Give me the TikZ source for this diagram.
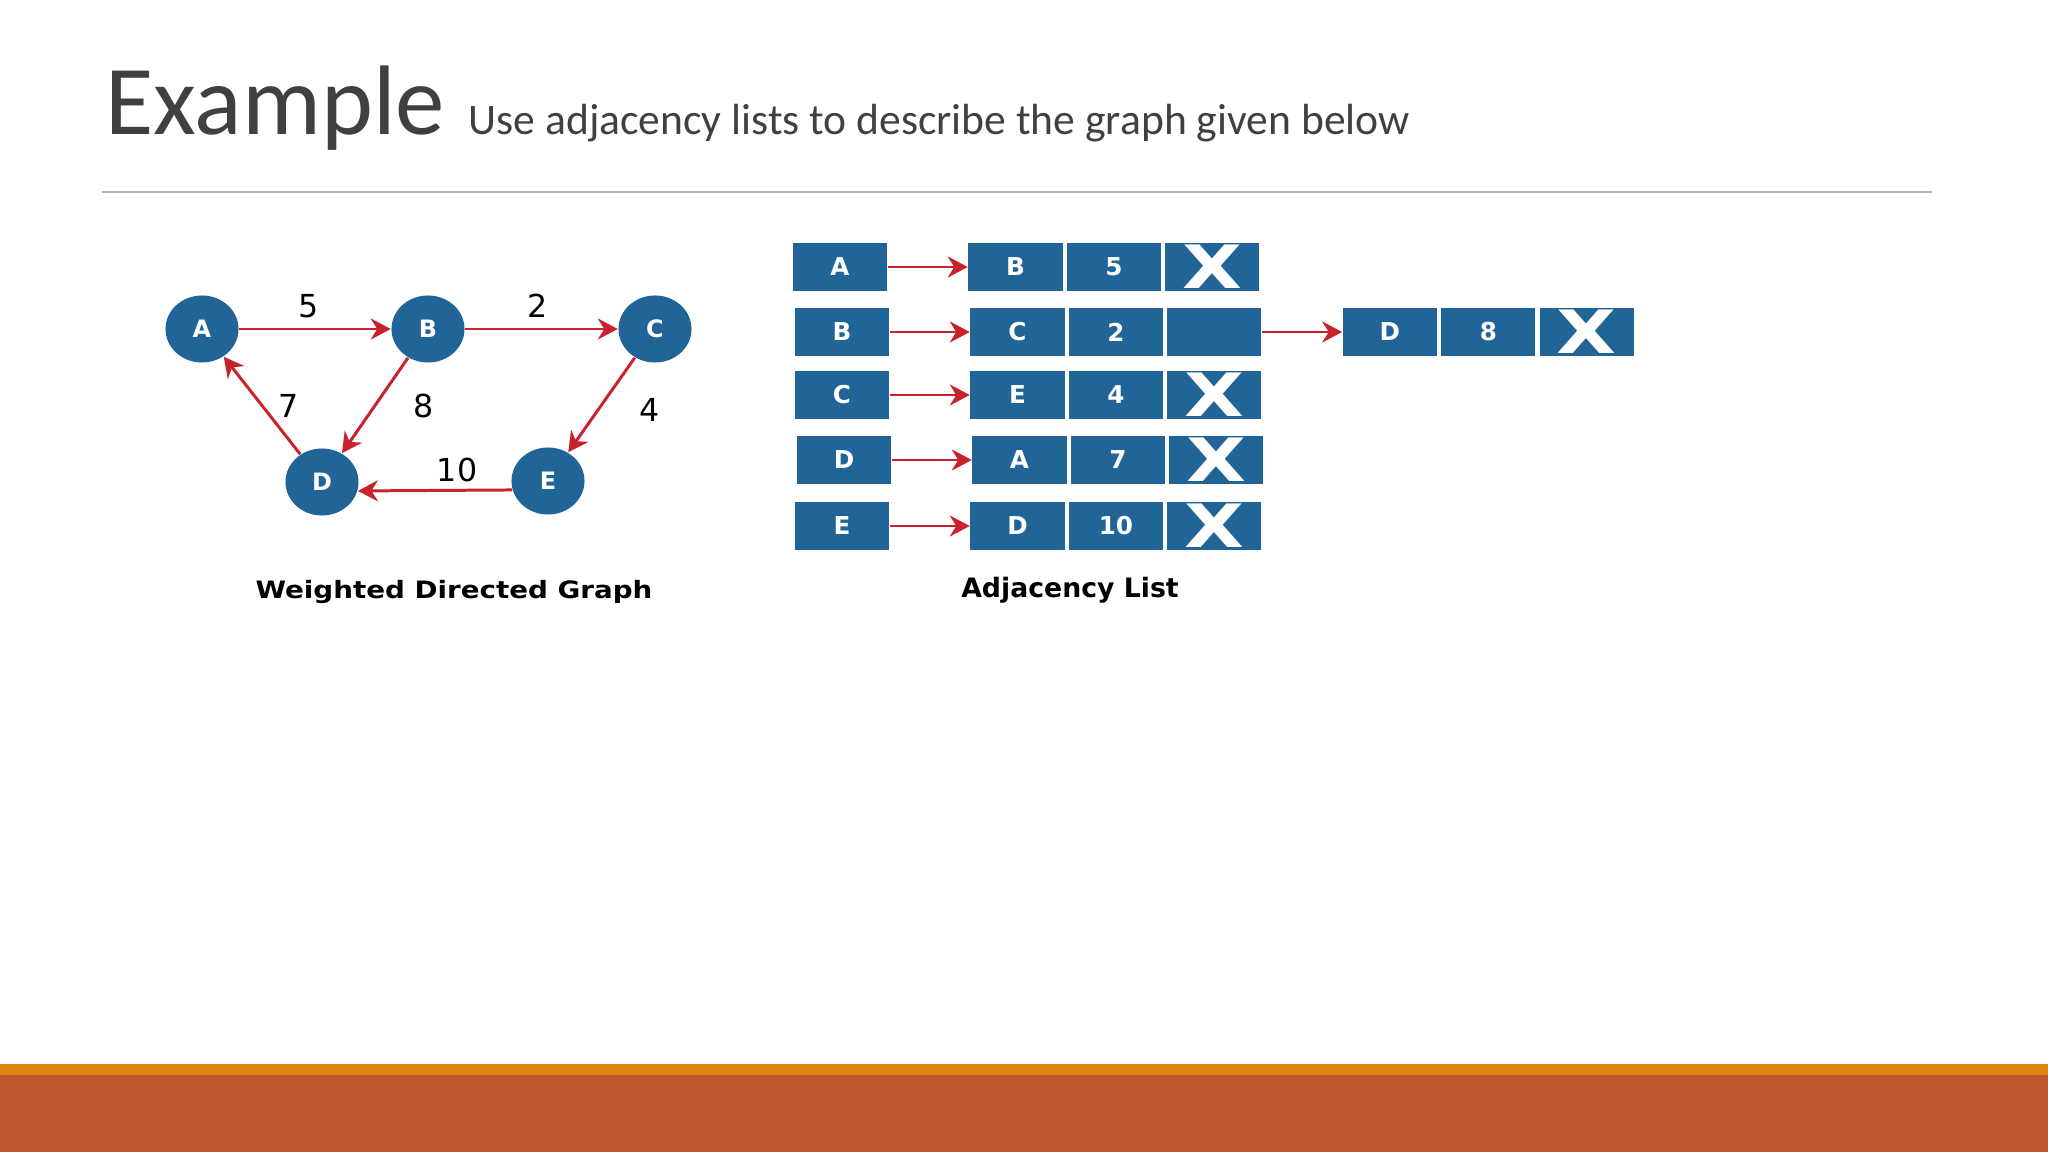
\documentclass[tikz,border=0pt]{standalone}
\usepackage{fontspec}
\setmainfont{DejaVu Sans}
\newfontfamily\titlefont{Carlito}
\newfontfamily\widefont[FakeStretch=1.16]{DejaVu Sans}
\usetikzlibrary{positioning,arrows.meta,shapes.geometric}
\definecolor{NodeBlue}{RGB}{33,101,152}
\definecolor{EdgeRed}{RGB}{200,35,45}
\definecolor{TitleGray}{RGB}{64,64,64}
\definecolor{RuleGray}{RGB}{180,180,180}
\definecolor{BarOrange}{RGB}{224,132,18}
\definecolor{BarRust}{RGB}{189,88,44}

\begin{document}
\begin{tikzpicture}[
  x=0.01cm, y=-0.01cm,
  node distance=0.03cm and 0.03cm,
  vertex/.style={ellipse, fill=NodeBlue, text=white, minimum width=0.73cm, minimum height=0.67cm, inner sep=0pt, font=\fontsize{6.8}{7}\selectfont\bfseries},
  headbox/.style={fill=NodeBlue, text=white, minimum width=0.94cm, minimum height=0.48cm, inner sep=0pt, font=\fontsize{7}{8}\selectfont\bfseries},
  nilbox/.style={headbox, font=\fontsize{17}{18}\selectfont\bfseries},
  arrow/.style={-{Stealth[length=0.2cm, width=0.21cm]}, EdgeRed, line width=0.85pt},
  weight/.style={text=black, font=\fontsize{9}{10}\selectfont, inner sep=0pt},
  caption/.style={anchor=base, inner sep=0pt}
]
\useasboundingbox (0,0) rectangle (2048,1152);

% Slide title
\node[anchor=base west, inner sep=0pt, text=TitleGray, font=\titlefont\fontsize{28.1}{30}\selectfont] (title) at (105,135) {Example};
\node[anchor=base west, inner sep=0pt, text=TitleGray, font=\titlefont\fontsize{12.4}{14}\selectfont] (subtitle) at (468,135) {Use adjacency lists to describe the graph given below};
\draw[RuleGray, line width=0.6pt] (102,192) -- (1932,192);

% Weighted directed graph
\node[vertex] (A) at (202,329) {A};
\node[vertex] (B) at (428,329) {B};
\node[vertex] (C) at (655,329) {C};
\node[vertex] (D) at (322,482) {D};
\node[vertex] (E) at (548,481) {E};

\draw[arrow] (A) -- (B) node[weight, midway, above=0.095cm, xshift=-0.06cm] {5};
\draw[arrow] (B) -- (C) node[weight, midway, above=0.095cm, xshift=-0.04cm] {2};
\draw[arrow] (C) -- (E) node[weight, midway, right=0.36cm, yshift=-0.05cm] {4};
\draw[arrow] (B) -- (D) node[weight, midway, right=0.37cm] {8};
\draw[arrow] (D) -- (A) node[weight, midway, right=0.15cm] {7};
\draw[arrow] (E.194) -- (D.-14) node[weight, midway, above=0.075cm, xshift=0.22cm] {10};

\node[caption, font=\widefont\fontsize{6.8}{8}\selectfont\bfseries] (graphcap) at (454,598) {Weighted Directed Graph};

% Adjacency list: heads
\node[headbox] (headA) at (840,267) {A};
\node[headbox] (headB) at (842,332) {B};
\node[headbox] (headC) at (842,395) {C};
\node[headbox] (headD) at (844,460) {D};
\node[headbox] (headE) at (842,526) {E};

% Row A
\node[headbox, right=0.8cm of headA] (a1) {B};
\node[headbox, right=of a1] (a2) {5};
\node[nilbox, right=of a2] (a3) {\scalebox{1.3}[1]{X}};
% Row B
\node[headbox, right=0.8cm of headB] (b1) {C};
\node[headbox, right=of b1] (b2) {2};
\node[headbox, right=of b2] (b3) {};
\node[headbox, right=0.8cm of b3] (b4) {D};
\node[headbox, right=of b4] (b5) {8};
\node[nilbox, right=of b5] (b6) {\scalebox{1.3}[1]{X}};
% Row C
\node[headbox, right=0.8cm of headC] (c1) {E};
\node[headbox, right=of c1] (c2) {4};
\node[nilbox, right=of c2] (c3) {\scalebox{1.3}[1]{X}};
% Row D
\node[headbox, right=0.8cm of headD] (d1) {A};
\node[headbox, right=of d1] (d2) {7};
\node[nilbox, right=of d2] (d3) {\scalebox{1.3}[1]{X}};
% Row E
\node[headbox, right=0.8cm of headE] (e1) {D};
\node[headbox, right=of e1] (e2) {10};
\node[nilbox, right=of e2] (e3) {\scalebox{1.3}[1]{X}};

\draw[arrow] (headA) -- (a1);
\draw[arrow] (headB) -- (b1);
\draw[arrow] (headC) -- (c1);
\draw[arrow] (headD) -- (d1);
\draw[arrow] (headE) -- (e1);
\draw[arrow] (b3) -- (b4);

\node[caption, font=\fontsize{7.6}{8}\selectfont\bfseries] (listcap) at (1070,597) {Adjacency List};

% Footer bars
\fill[BarOrange] (0,1064) rectangle (2048,1076);
\fill[BarRust] (0,1075) rectangle (2048,1152);
\end{tikzpicture}
\end{document}
